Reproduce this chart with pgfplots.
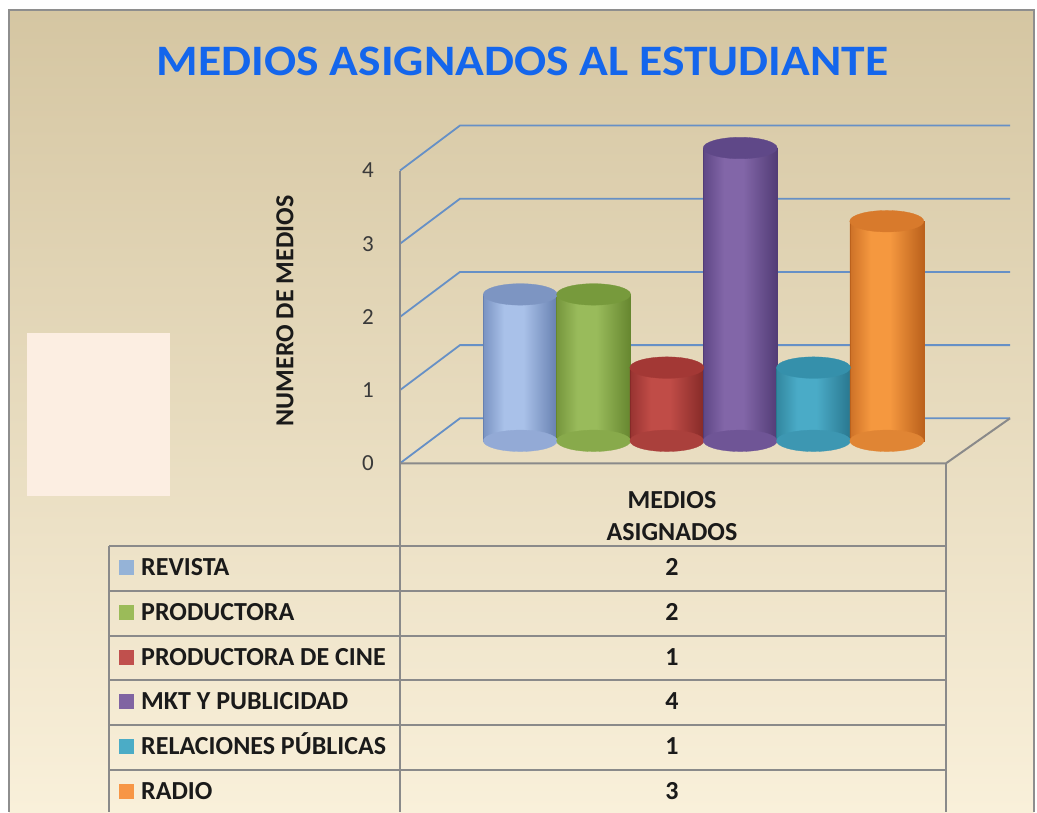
\documentclass[border=0pt]{standalone}
\usepackage{fontspec}
\setmainfont{Carlito}
\usepackage{graphicx}
\usepackage{pgfplots}
\usepackage{pgfplotstable}
\pgfplotsset{compat=1.18}

\definecolor{bgtop}{HTML}{D5C6A2}
\definecolor{bgmid}{HTML}{F0E7D0}
\definecolor{bgbot}{HTML}{F9F0DA}
\definecolor{framec}{HTML}{8E8E8E}
\definecolor{gridc}{HTML}{6690C6}
\definecolor{tline}{HTML}{8A8A8A}
\definecolor{pinkbox}{HTML}{FCEEE2}
\definecolor{titleblue}{HTML}{1466EC}
\definecolor{txt}{HTML}{1A1A1A}
\definecolor{tickc}{HTML}{3A3A3A}
% cylinder colours: E left edge, M highlight, D right edge, T top cap, B bottom
\definecolor{E1}{HTML}{7A93C2}\definecolor{M1}{HTML}{A9C1E9}\definecolor{D1}{HTML}{6780B0}\definecolor{T1}{HTML}{7D95C2}\definecolor{B1}{HTML}{93AAD6}
\definecolor{E2}{HTML}{76963D}\definecolor{M2}{HTML}{99BB5B}\definecolor{D2}{HTML}{66862F}\definecolor{T2}{HTML}{779A3C}\definecolor{B2}{HTML}{88AA4B}
\definecolor{E3}{HTML}{973331}\definecolor{M3}{HTML}{C04C47}\definecolor{D3}{HTML}{862A28}\definecolor{T3}{HTML}{A33835}\definecolor{B3}{HTML}{AA403C}
\definecolor{E4}{HTML}{5F4786}\definecolor{M4}{HTML}{8266A8}\definecolor{D4}{HTML}{523C76}\definecolor{T4}{HTML}{5F4888}\definecolor{B4}{HTML}{6F5596}
\definecolor{E5}{HTML}{32879F}\definecolor{M5}{HTML}{4AABC7}\definecolor{D5}{HTML}{29778F}\definecolor{T5}{HTML}{3590AB}\definecolor{B5}{HTML}{3D97B2}
\definecolor{E6}{HTML}{CD7127}\definecolor{M6}{HTML}{F5983F}\definecolor{D6}{HTML}{BB611C}\definecolor{T6}{HTML}{D87A2C}\definecolor{B6}{HTML}{E08534}
\pgfdeclarehorizontalshading{cyl1}{100bp}{color(0bp)=(E1); color(25bp)=(E1); color(39bp)=(M1); color(52bp)=(M1); color(75bp)=(D1); color(100bp)=(D1)}
\pgfdeclarehorizontalshading{cyl2}{100bp}{color(0bp)=(E2); color(25bp)=(E2); color(39bp)=(M2); color(52bp)=(M2); color(75bp)=(D2); color(100bp)=(D2)}
\pgfdeclarehorizontalshading{cyl3}{100bp}{color(0bp)=(E3); color(25bp)=(E3); color(39bp)=(M3); color(52bp)=(M3); color(75bp)=(D3); color(100bp)=(D3)}
\pgfdeclarehorizontalshading{cyl4}{100bp}{color(0bp)=(E4); color(25bp)=(E4); color(39bp)=(M4); color(52bp)=(M4); color(75bp)=(D4); color(100bp)=(D4)}
\pgfdeclarehorizontalshading{cyl5}{100bp}{color(0bp)=(E5); color(25bp)=(E5); color(39bp)=(M5); color(52bp)=(M5); color(75bp)=(D5); color(100bp)=(D5)}
\pgfdeclarehorizontalshading{cyl6}{100bp}{color(0bp)=(E6); color(25bp)=(E6); color(39bp)=(M6); color(52bp)=(M6); color(75bp)=(D6); color(100bp)=(D6)}
% legend squares
\definecolor{L1}{HTML}{95B3D7}
\definecolor{L2}{HTML}{9BBB59}
\definecolor{L3}{HTML}{C0504D}
\definecolor{L4}{HTML}{8064A2}
\definecolor{L5}{HTML}{4BACC6}
\definecolor{L6}{HTML}{F79646}

\pgfplotstableread[col sep=comma]{
i,v,name
1,2,REVISTA
2,2,PRODUCTORA
3,1,PRODUCTORA DE CINE
4,4,MKT Y PUBLICIDAD
5,1,RELACIONES PÚBLICAS
6,3,RADIO
}\datatable

\begin{document}
\begin{tikzpicture}[x=1pt,y=1pt]
\useasboundingbox (0,0) rectangle (1037,-812);
\fill[white] (0,0) rectangle (1037,-812);
\shade[top color=bgtop, middle color=bgmid, bottom color=bgbot] (9,-10) rectangle (1034,-812);
\draw[framec, line width=2pt] (9,-812) -- (9,-10) -- (1034,-10) -- (1034,-812);
\fill[pinkbox] (27,-333) rectangle (170,-496);
% title
\node[inner sep=0pt, text=titleblue] at (522.5,-61) {\resizebox{731pt}{28.5pt}{\bfseries MEDIOS ASIGNADOS AL ESTUDIANTE}};
% walls and gridlines
\foreach \k in {0,...,4}{
  \pgfmathsetmacro\yf{463.3-73.2*\k}
  \draw[gridc, line width=1.8pt] (400,-\yf) -- (460,-\yf+45) -- (1010,-\yf+45);
}
\draw[tline, line width=2pt] (400,-170.5) -- (400,-812);
\draw[tline, line width=2pt] (400,-463.3) -- (946,-463.3) -- (1010,-418.3);
\draw[tline, line width=2pt] (946,-463.3) -- (946,-812);
\draw[tline, line width=2pt] (109,-546) -- (109,-812);
\foreach \r in {0,...,5}{
  \pgfmathsetmacro\yl{546+44.8*\r}
  \draw[tline, line width=2pt] (109,-\yl) -- (946,-\yl);
}

% axis: its box is the mid-depth plane of the 3-D chart
\begin{axis}[
  at={(430pt,-440.8pt)}, anchor=south west,
  scale only axis, width=546pt, height=292.8pt,
  xmin=-0.232, xmax=7.217, ymin=0, ymax=4,
  axis lines=left, axis line style={draw=none,-},
  xtick=\empty, ytick={0,1,2,3,4}, major tick length=0pt,
  tick style={draw=none},
  /pgf/number format/assume math mode=true,
  yticklabel style={font=\fontsize{23}{23}\selectfont, text=tickc, anchor=east, inner sep=0pt, xshift=-56pt, yshift=-22.5pt},
  ylabel={NUMERO DE MEDIOS},
  every axis y label/.style={at={(axis description cs:-0.2656,0.4433)}, rotate=90, anchor=center, font=\fontsize{26}{26}\selectfont\bfseries, text=txt},
  clip=false,
]
\pgfplotsinvokeforeach{1,...,6}{
  % bottom of the cylinder
  \addplot[only marks, mark=*, mark size=37pt,
    mark options={yscale=0.29, draw=B#1, fill=B#1, line width=0.3pt},
    restrict x to domain=#1:#1]
    table[x=i, y expr=0] {\datatable};
  % body of the cylinder
  \addplot[ybar, bar width=74pt, draw=D#1, line width=0.3pt,
    shade, shading=cyl#1,
    restrict x to domain=#1:#1]
    table[x=i, y=v] {\datatable};
  % top of the cylinder
  \addplot[only marks, mark=*, mark size=37pt,
    mark options={yscale=0.29, draw=T#1, fill=T#1, line width=0.3pt},
    restrict x to domain=#1:#1]
    table[x=i, y=v] {\datatable};
}
\end{axis}

% data table below the chart
\node[anchor=base, inner sep=0pt, text=txt, font=\fontsize{26}{26}\selectfont\bfseries] at (672,-508.3) {MEDIOS};
\node[anchor=base, inner sep=0pt, text=txt, font=\fontsize{26}{26}\selectfont\bfseries] at (672,-540) {ASIGNADOS};
\foreach \r in {0,...,5}{
  \pgfplotstablegetelem{\r}{name}\of\datatable \let\nm\pgfplotsretval
  \pgfplotstablegetelem{\r}{v}\of\datatable \let\vv\pgfplotsretval
  \pgfmathtruncatemacro\ri{\r+1}
  \pgfmathsetmacro\yb{575.5+44.8*\r}
  \pgfmathsetmacro\yt{560+44.8*\r}
  \fill[L\ri] (119,-\yt) rectangle (134,-\yt-15);
  \node[anchor=base west, inner sep=0pt, text=txt, font=\fontsize{26}{26}\selectfont\bfseries] at (141,-\yb) {\nm};
  \node[anchor=base, inner sep=0pt, text=txt, font=\fontsize{26}{26}\selectfont\bfseries] at (672,-\yb) {\vv};
}
\end{tikzpicture}
\end{document}
